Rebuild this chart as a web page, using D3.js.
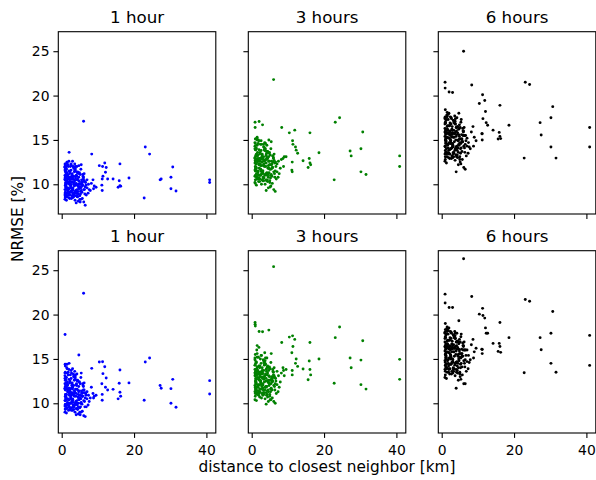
<!DOCTYPE html>
<html>
<head>
<meta charset="utf-8">
<script src="https://cdn.jsdelivr.net/npm/d3@7"></script>
<style>
  body { margin: 0; background: #fff; }
  text { font-family: "DejaVu Sans", sans-serif; }
</style>
</head>
<body>
<svg id="chart" width="596" height="480"></svg>
<script>
const horizons = ["1 hour", "3 hours", "6 hours"];
const colors = ["blue", "green", "black"];
const xTicks = [0, 20, 40];
const yTicks = [10, 15, 20, 25];

// distance to closest neighbor [km], one value per station (shared by all panels)
const distance = [
  0.9, 1.0, 1.1, 0.9, 1.2, 1.0, 1.3, 0.9, 1.1, 1.0,
  1.4, 1.5, 1.2, 1.6, 1.1, 1.8, 1.3, 1.7, 1.5, 1.9,
  2.0, 2.1, 1.4, 2.3, 2.2, 1.6, 2.5, 2.0, 2.4, 1.8,
  2.6, 2.8, 2.2, 3.0, 2.7, 2.1, 2.9, 3.1, 2.5, 3.3,
  3.2, 3.5, 2.8, 3.4, 3.6, 3.0, 3.8, 3.3, 3.7, 4.0,
  3.9, 4.1, 4.3, 3.6, 4.2, 4.5, 4.4, 3.8, 4.6, 4.8,
  4.7, 5.0, 4.9, 5.2, 5.1, 5.4, 4.3, 5.5, 5.3, 5.7,
  5.6, 5.9, 6.1, 5.8, 6.3, 6.0, 6.5, 6.2, 6.8, 7.0,
  1.0, 1.2, 0.9, 1.1, 1.5, 1.3, 1.9, 2.3, 2.6, 2.9,
  1.1, 1.6, 2.0, 2.4, 3.1, 3.5, 4.0, 4.4, 1.3, 1.8,
  0.9, 1.4, 2.2, 2.7, 3.4, 3.9, 4.6, 5.0, 5.4, 6.0,
  1.0, 1.7, 2.1, 2.8, 3.2, 3.7, 4.2, 4.9, 5.6, 6.6,
  1.2, 1.5, 2.5, 3.0, 3.6, 4.1, 4.7, 5.3, 5.8, 7.3,
  1.0, 1.3, 2.0, 2.6, 3.3, 3.8, 4.5, 5.1, 6.4, 7.6,
  6.05, 2.05, 0.93, 0.95, 3.0, 4.74, 1.0, 8.3, 7.0, 7.4, 7.9, 8.2, 8.65, 8.8, 9.0, 9.5,
  6.5, 4.0, 10.4, 11.3, 11.9, 12.3, 12.1, 11.2, 11.4, 12.7, 11.1, 11.2, 14.2, 16.1,
  15.9, 16.1, 16.3, 15.6, 18.6, 22.8, 23.1, 24.3, 27.2, 27.5, 30.2, 30.2, 30.7, 31.6, 40.9, 40.9,
  0.9, 1.0, 0.9, 1.0, 1.1, 0.9, 1.0, 1.2, 1.1, 0.9,
  1.6, 2.2, 2.9, 3.5, 1.4, 2.7, 3.9, 4.3, 1.8, 2.4,
  3.1, 3.7, 4.9, 5.2, 2.0, 2.6, 3.3, 4.1, 4.7, 5.5,
  1.3, 1.9, 2.5, 3.0, 3.6, 4.4, 5.0, 5.7, 6.2, 1.5,
  2.1, 2.8, 3.4, 4.0, 4.6, 5.3, 5.9, 6.4, 1.2, 1.7,
  2.3, 3.2, 3.8, 4.2, 4.8, 5.1, 5.6, 6.1, 6.7, 2.9
];

// NRMSE [%], top row
const top1h = [
  8.3, 9.1, 10.2, 11.0, 9.6, 12.2, 10.7, 8.8, 11.5, 9.9,
  10.4, 8.6, 11.8, 9.3, 10.9, 12.0, 9.0, 10.6, 11.3, 8.9,
  10.1, 9.5, 12.4, 10.8, 8.4, 11.1, 9.8, 12.6, 10.3, 9.2,
  11.6, 8.7, 10.5, 9.4, 12.1, 10.0, 11.2, 8.5, 9.7, 10.9,
  9.0, 11.4, 10.2, 8.8, 12.3, 9.6, 10.7, 11.9, 8.2, 10.1,
  9.3, 11.0, 8.6, 10.4, 12.0, 9.8, 10.6, 11.5, 8.9, 9.5,
  10.8, 8.7, 11.3, 9.2, 10.0, 12.2, 9.0, 10.5, 11.7, 8.4,
  9.9, 10.3, 8.0, 11.1, 9.4, 10.6, 9.7, 11.2, 8.8, 9.6,
  8.5, 10.0, 11.9, 9.4, 12.5, 8.2, 10.7, 11.4, 9.1, 10.3,
  9.7, 10.9, 8.8, 12.0, 9.3, 10.5, 11.0, 8.6, 10.1, 9.5,
  10.6, 9.0, 11.2, 8.4, 10.2, 9.9, 8.1, 9.7, 9.3, 10.8,
  11.4, 9.6, 10.3, 10.9, 8.9, 11.8, 9.4, 10.0, 9.1, 10.2,
  9.8, 12.1, 9.2, 10.6, 11.5, 8.7, 10.4, 8.3, 9.9, 9.0,
  10.5, 11.7, 8.9, 9.6, 10.0, 12.0, 9.2, 11.1, 10.3, 9.4,
  17.1, 13.6, 12.3, 11.9, 12.6, 12.1, 12.0, 13.4, 10.5, 10.0, 9.3, 10.1, 10.5, 9.5, 9.8, 9.66,
  7.64, 7.9, 12.1, 12.0, 12.4, 11.9, 11.35, 10.6, 10.9, 10.6, 9.9, 9.3, 10.6, 12.3,
  10.4, 9.85, 9.78, 9.66, 10.7, 8.46, 14.2, 13.4, 10.5, 10.6, 10.8, 9.5, 11.95, 9.25, 10.5, 10.2,
  9.4, 10.8, 11.6, 8.6, 10.1, 12.0, 9.0, 11.2, 8.9, 10.5,
  10.2, 9.1, 11.0, 9.8, 8.7, 10.6, 9.2, 11.3, 12.2, 10.0,
  9.5, 11.7, 10.3, 8.9, 11.5, 12.3, 8.6, 10.9, 9.6, 10.2,
  11.1, 8.5, 9.9, 10.7, 9.0, 11.4, 8.3, 9.8, 10.4, 12.5,
  10.6, 9.3, 11.8, 8.7, 10.0, 9.6, 10.9, 8.9, 9.7, 11.0,
  8.8, 12.0, 9.2, 10.5, 11.2, 8.0, 10.1, 9.4, 9.9, 10.7
];
const top3h = [
  10.2, 11.5, 12.6, 13.0, 11.9, 14.6, 12.8, 10.9, 13.9, 12.0,
  12.7, 10.6, 14.1, 11.4, 13.2, 15.0, 11.2, 12.9, 13.3, 11.0,
  12.2, 11.8, 15.2, 12.9, 10.3, 13.6, 11.7, 14.9, 12.6, 11.1,
  13.8, 10.5, 12.9, 11.3, 14.5, 12.3, 13.4, 10.4, 11.6, 13.1,
  10.8, 13.9, 12.1, 10.7, 14.7, 11.5, 12.8, 14.2, 10.0, 12.4,
  11.2, 13.5, 10.5, 12.7, 14.4, 11.8, 12.9, 13.8, 10.8, 11.3,
  13.1, 10.4, 13.6, 11.0, 12.2, 14.8, 11.0, 12.6, 14.0, 10.1,
  11.8, 12.5, 9.4, 13.2, 11.2, 12.9, 11.5, 13.4, 10.6, 11.4,
  10.1, 12.3, 14.3, 11.6, 15.3, 9.9, 12.8, 13.6, 11.1, 12.5,
  11.8, 13.2, 10.7, 14.5, 11.2, 12.6, 13.3, 10.3, 12.3, 11.4,
  12.9, 10.8, 13.4, 10.0, 12.3, 12.0, 9.6, 11.7, 11.1, 13.0,
  13.9, 11.5, 12.6, 13.1, 10.7, 14.0, 11.3, 12.2, 10.9, 12.5,
  11.9, 14.4, 11.0, 12.8, 13.8, 10.4, 12.6, 9.8, 11.9, 10.8,
  12.7, 14.0, 10.6, 11.5, 12.2, 14.6, 11.1, 13.3, 12.4, 11.2,
  21.8, 17.08, 17.0, 16.4, 16.7, 15.0, 15.1, 16.4, 12.3, 12.6, 11.8, 12.8, 12.9, 12.0, 13.1, 13.1,
  9.2, 9.3, 15.8, 14.9, 16.1, 13.85, 14.2, 12.5, 14.5, 13.5, 11.6, 11.4, 12.66, 15.8,
  12.9, 12.4, 12.2, 11.9, 13.56, 10.5, 17.0, 17.5, 13.75, 13.2, 14.0, 11.4, 15.9, 11.1, 13.2, 12.0,
  11.6, 13.0, 14.0, 10.5, 12.6, 14.7, 11.0, 13.3, 10.9, 12.4,
  12.5, 11.0, 13.3, 12.0, 10.6, 12.9, 11.1, 13.7, 14.6, 12.3,
  11.5, 14.0, 12.6, 10.7, 13.9, 14.9, 10.4, 13.1, 11.8, 12.2,
  13.4, 10.3, 12.1, 12.9, 11.0, 13.7, 10.2, 11.9, 12.7, 15.0,
  12.8, 11.3, 14.2, 10.5, 12.1, 11.7, 13.2, 10.8, 11.8, 13.3,
  10.6, 14.5, 11.1, 12.8, 13.5, 9.7, 12.3, 11.4, 12.0, 13.0
];
const top6h = [
  12.6, 14.2, 15.6, 16.3, 14.8, 17.6, 15.9, 13.4, 16.9, 15.0,
  15.7, 13.1, 17.2, 14.4, 16.1, 17.9, 14.0, 15.8, 16.5, 13.8,
  15.2, 14.7, 17.8, 16.0, 12.9, 16.6, 14.9, 18.0, 15.5, 14.1,
  16.8, 13.2, 15.9, 14.3, 17.4, 15.2, 16.5, 13.0, 14.6, 16.1,
  13.6, 16.9, 15.3, 13.5, 17.7, 14.6, 15.9, 17.2, 12.7, 15.4,
  14.2, 16.4, 13.3, 15.7, 17.5, 14.9, 15.8, 16.8, 13.6, 14.4,
  16.2, 13.1, 16.7, 14.0, 15.1, 17.3, 13.8, 15.6, 17.0, 12.8,
  14.8, 15.5, 11.9, 16.3, 14.1, 15.9, 14.5, 16.4, 13.2, 14.3,
  12.8, 15.3, 17.5, 14.6, 18.1, 12.4, 15.8, 16.9, 14.0, 15.6,
  14.9, 16.2, 13.4, 17.6, 14.2, 15.7, 16.4, 13.0, 15.2, 14.5,
  15.9, 13.6, 16.6, 12.9, 15.3, 15.0, 12.2, 14.7, 14.1, 16.0,
  17.0, 14.5, 15.6, 16.2, 13.4, 17.1, 14.3, 15.1, 13.7, 15.5,
  14.9, 17.6, 14.0, 15.8, 16.9, 13.1, 15.6, 12.3, 14.8, 13.5,
  15.8, 17.3, 13.5, 14.6, 15.3, 17.4, 14.1, 16.4, 15.5, 14.2,
  25.0, 20.4, 21.5, 20.84, 20.35, 18.0, 18.4, 21.2, 15.2, 14.7, 14.0, 15.9, 16.5, 14.3, 15.3, 14.9,
  11.7, 11.4, 19.1, 20.1, 19.45, 16.95, 18.2, 15.7, 17.4, 16.65, 15.7, 15.0, 16.1, 18.9,
  15.85, 15.4, 15.15, 15.1, 16.65, 12.95, 21.5, 21.25, 16.95, 15.55, 17.5, 14.2, 18.75, 12.95, 16.4, 14.2,
  14.3, 15.9, 16.8, 13.1, 15.1, 17.4, 13.8, 16.2, 13.6, 15.4,
  15.3, 13.9, 16.1, 14.8, 13.4, 15.7, 14.0, 16.5, 17.3, 15.0,
  14.4, 16.8, 15.4, 13.5, 16.6, 17.5, 13.1, 16.0, 14.5, 15.1,
  16.2, 13.0, 14.9, 15.8, 13.8, 16.5, 12.8, 14.8, 15.5, 17.7,
  15.7, 14.1, 17.0, 13.3, 15.0, 14.6, 16.0, 13.6, 14.7, 16.1,
  13.4, 17.2, 14.0, 15.6, 16.3, 12.5, 15.1, 14.3, 14.9, 15.8
];

// NRMSE [%], bottom row
const bottom1h = [
  9.0, 10.3, 11.0, 12.2, 10.5, 13.5, 11.8, 9.7, 12.6, 10.8,
  11.6, 9.4, 12.9, 10.1, 11.9, 13.2, 9.9, 11.5, 12.2, 9.8,
  11.2, 10.4, 14.0, 11.6, 9.3, 12.4, 10.6, 13.8, 11.3, 10.0,
  12.8, 9.5, 11.4, 10.3, 13.4, 10.9, 12.3, 9.2, 10.7, 12.0,
  9.8, 12.6, 11.0, 9.6, 13.6, 10.5, 11.6, 13.0, 9.0, 11.1,
  10.2, 12.2, 9.4, 11.3, 13.3, 10.7, 11.5, 12.7, 9.6, 10.4,
  11.9, 9.5, 12.4, 10.0, 10.9, 13.4, 9.8, 11.4, 12.9, 9.1,
  10.8, 11.2, 8.6, 12.2, 10.2, 11.5, 10.6, 12.3, 9.6, 10.5,
  9.3, 11.0, 13.1, 10.3, 14.4, 8.9, 11.7, 12.5, 10.0, 11.2,
  10.6, 12.0, 9.6, 13.2, 10.1, 11.4, 12.1, 9.3, 11.0, 10.4,
  11.7, 9.8, 12.3, 9.2, 11.1, 10.8, 8.8, 10.6, 10.1, 11.9,
  12.6, 10.5, 11.2, 12.0, 9.7, 13.0, 10.3, 10.9, 9.9, 11.1,
  10.7, 13.4, 10.0, 11.6, 12.7, 9.4, 11.3, 9.0, 10.8, 9.8,
  11.5, 12.9, 9.7, 10.5, 10.9, 13.2, 10.0, 12.2, 11.2, 10.2,
  22.4, 14.5, 17.76, 14.4, 13.9, 15.44, 14.2, 13.94, 11.3, 10.9, 10.6, 11.8, 11.1, 10.6, 10.8, 10.9,
  8.5, 8.7, 14.65, 14.69, 14.12, 12.85, 11.8, 10.34, 13.34, 11.5, 12.2, 11.0, 11.57, 13.75,
  12.25, 11.24, 10.8, 10.5, 12.3, 10.34, 14.65, 15.1, 12.0, 11.7, 11.65, 10.0, 12.7, 9.55, 12.55, 11.05,
  10.3, 11.9, 12.8, 9.4, 11.0, 13.4, 9.9, 12.3, 9.7, 11.6,
  11.3, 10.0, 12.1, 10.8, 9.5, 11.7, 10.1, 12.5, 13.5, 11.0,
  10.4, 12.9, 11.4, 9.6, 12.7, 13.7, 9.3, 12.0, 10.5, 11.2,
  12.2, 9.2, 10.9, 11.8, 9.8, 12.6, 9.0, 10.8, 11.5, 13.9,
  11.7, 10.2, 13.1, 9.4, 11.0, 10.5, 12.0, 9.6, 10.6, 12.1,
  9.5, 13.3, 10.0, 11.6, 12.4, 8.7, 11.1, 10.3, 10.9, 11.8
];
const bottom3h = [
  10.4, 11.8, 13.1, 13.8, 12.2, 15.5, 13.4, 11.3, 14.5, 12.5,
  13.2, 11.0, 14.7, 11.9, 13.6, 15.2, 11.6, 13.3, 14.0, 11.4,
  12.7, 12.1, 16.0, 13.5, 10.7, 14.1, 12.3, 16.3, 13.0, 11.8,
  14.5, 11.1, 13.2, 12.0, 15.4, 12.6, 14.0, 10.9, 12.4, 13.7,
  11.5, 14.3, 12.9, 11.2, 15.7, 12.2, 13.3, 14.8, 10.5, 12.8,
  11.9, 13.9, 11.0, 13.1, 15.1, 12.4, 13.4, 14.4, 11.3, 12.0,
  13.7, 11.0, 14.1, 11.6, 12.6, 15.6, 11.4, 13.0, 14.6, 10.6,
  12.5, 12.9, 10.2, 13.8, 11.9, 13.2, 12.2, 14.0, 11.1, 12.1,
  10.8, 12.7, 14.9, 11.8, 16.5, 10.3, 13.4, 14.2, 11.6, 12.9,
  12.3, 13.6, 11.1, 15.0, 11.7, 13.0, 13.8, 10.7, 12.7, 12.0,
  13.4, 11.4, 14.0, 10.6, 12.8, 12.5, 10.2, 12.2, 11.7, 13.5,
  14.3, 12.1, 12.9, 13.6, 11.2, 14.8, 11.9, 12.6, 11.5, 12.8,
  12.4, 15.2, 11.6, 13.3, 14.4, 10.9, 13.1, 10.4, 12.5, 11.3,
  13.2, 14.6, 11.2, 12.1, 12.7, 15.1, 11.5, 13.9, 12.9, 11.8,
  25.4, 18.1, 19.1, 18.9, 18.06, 18.25, 18.7, 16.86, 13.6, 13.1, 12.4, 13.4, 14.0, 13.7, 13.1, 13.8,
  10.0, 9.9, 17.46, 17.6, 17.2, 15.0, 14.5, 13.2, 16.4, 14.16, 15.7, 13.7, 13.86, 16.86,
  14.76, 13.8, 13.2, 12.66, 15.0, 12.25, 17.4, 18.6, 15.1, 14.0, 14.87, 12.1, 17.05, 11.6, 14.95, 12.7,
  12.0, 13.5, 14.3, 11.1, 12.8, 15.1, 11.6, 13.8, 11.4, 13.1,
  12.9, 11.6, 13.7, 12.4, 11.2, 13.3, 11.8, 14.1, 15.2, 12.6,
  12.1, 14.5, 13.0, 11.3, 14.2, 15.4, 11.0, 13.6, 12.3, 12.8,
  13.8, 10.9, 12.5, 13.4, 11.5, 14.2, 10.8, 12.4, 13.1, 15.6,
  13.3, 11.9, 14.6, 11.2, 12.6, 12.2, 13.6, 11.5, 12.3, 13.7,
  11.3, 14.9, 11.8, 13.2, 14.0, 10.4, 12.7, 12.0, 12.5, 13.4
];
const bottom6h = [
  12.9, 14.6, 16.1, 16.9, 15.2, 18.3, 16.4, 13.8, 17.4, 15.5,
  16.2, 13.5, 17.7, 14.8, 16.6, 18.2, 14.4, 16.3, 17.0, 14.2,
  15.7, 15.1, 18.4, 16.5, 13.3, 17.1, 15.3, 18.5, 16.0, 14.5,
  17.3, 13.6, 16.4, 14.7, 17.9, 15.7, 17.0, 13.4, 15.0, 16.6,
  14.0, 17.4, 15.8, 13.9, 18.1, 15.0, 16.4, 17.7, 13.1, 15.9,
  14.6, 16.9, 13.7, 16.2, 17.9, 15.3, 16.3, 17.3, 14.0, 14.8,
  16.7, 13.5, 17.2, 14.4, 15.6, 17.8, 14.2, 16.1, 17.5, 13.2,
  15.3, 16.0, 12.2, 16.8, 14.5, 16.4, 14.9, 16.9, 13.6, 14.7,
  13.2, 15.8, 18.0, 15.0, 18.6, 12.8, 16.3, 17.4, 14.4, 16.1,
  15.4, 16.7, 13.8, 18.1, 14.6, 16.2, 16.9, 13.4, 15.7, 14.9,
  16.4, 14.0, 17.1, 13.3, 15.8, 15.5, 12.6, 15.2, 14.5, 16.5,
  17.5, 14.9, 16.1, 16.7, 13.8, 17.6, 14.7, 15.6, 14.1, 16.0,
  15.4, 18.1, 14.4, 16.3, 17.4, 13.5, 16.1, 12.7, 15.3, 13.9,
  16.3, 17.8, 13.9, 15.1, 15.8, 17.9, 14.5, 16.9, 16.0, 14.6,
  26.3, 20.8, 22.3, 21.3, 20.8, 19.3, 19.0, 22.04, 16.0, 15.4, 14.9, 16.6, 17.2, 15.1, 15.8, 16.2,
  12.2, 11.7, 20.05, 20.7, 19.6, 17.9, 18.5, 16.07, 19.9, 17.9, 16.1, 15.6, 16.75, 19.1,
  16.75, 16.4, 15.74, 15.85, 17.4, 13.45, 21.7, 21.5, 17.4, 16.04, 17.9, 14.5, 20.35, 13.5, 17.65, 14.27,
  14.8, 16.4, 17.3, 13.6, 15.6, 17.9, 14.3, 16.7, 14.1, 15.9,
  15.8, 14.4, 16.6, 15.3, 13.9, 16.2, 14.5, 17.0, 17.8, 15.5,
  14.9, 17.3, 15.9, 14.0, 17.1, 18.0, 13.6, 16.5, 15.0, 15.6,
  16.7, 13.5, 15.4, 16.3, 14.3, 17.0, 13.3, 15.3, 16.0, 18.2,
  16.2, 14.6, 17.5, 13.8, 15.5, 15.1, 16.5, 14.1, 15.2, 16.6,
  13.9, 17.7, 14.5, 16.1, 16.8, 13.0, 15.6, 14.8, 15.4, 16.3
];

const rows = [[top1h, top3h, top6h], [bottom1h, bottom3h, bottom6h]];

const svg = d3.select("#chart");
const w = 157.5, h = 182.3;
const lefts = [58.3, 248.3, 438.3];
const tops = [31.7, 250.7];
const fontSize = 13.9;

const x = d3.scaleLinear().domain([-0.94, 42.6]).range([0, w]);
const y = d3.scaleLinear().domain([6.65, 27.2]).range([h, 0]);

rows.forEach((row, r) => {
  row.forEach((values, c) => {
    const g = svg.append("g").attr("transform", `translate(${lefts[c]},${tops[r]})`);

    g.selectAll("circle")
      .data(values)
      .enter().append("circle")
      .attr("cx", (d, i) => x(distance[i]))
      .attr("cy", d => y(d))
      .attr("r", 1.45)
      .attr("fill", colors[c]);

    const xAxis = d3.axisBottom(x).tickValues(xTicks).tickSize(4.9).tickSizeOuter(0).tickPadding(4.9);
    if (r == 0) xAxis.tickFormat("");
    const ax = g.append("g").attr("transform", `translate(0,${h})`).call(xAxis);

    const yAxis = d3.axisLeft(y).tickValues(yTicks).tickSize(4.9).tickSizeOuter(0).tickPadding(3.9);
    if (c > 0) yAxis.tickFormat("");
    const ay = g.append("g").call(yAxis);

    [ax, ay].forEach(a => {
      a.select(".domain").remove();
      a.selectAll("line").attr("stroke", "#000").attr("stroke-width", 1.1);
      a.selectAll("text")
        .attr("font-size", fontSize)
        .attr("font-family", "DejaVu Sans")
        .attr("fill", "#000");
    });
    ax.selectAll("text").attr("dy", "0.85em");

    g.append("rect")
      .attr("width", w)
      .attr("height", h)
      .attr("fill", "none")
      .attr("stroke", "#000")
      .attr("stroke-width", 1.1);

    g.append("text")
      .attr("x", w / 2)
      .attr("y", -8.4)
      .attr("text-anchor", "middle")
      .attr("font-size", 16.7)
      .text(horizons[c]);
  });
});

svg.append("text")
  .attr("transform", "translate(23,219) rotate(-90)")
  .attr("text-anchor", "middle")
  .attr("font-size", 15.3)
  .text("NRMSE [%]");

svg.append("text")
  .attr("x", 327)
  .attr("y", 472)
  .attr("text-anchor", "middle")
  .attr("font-size", 15.3)
  .text("distance to closest neighbor [km]");
</script>
</body>
</html>
